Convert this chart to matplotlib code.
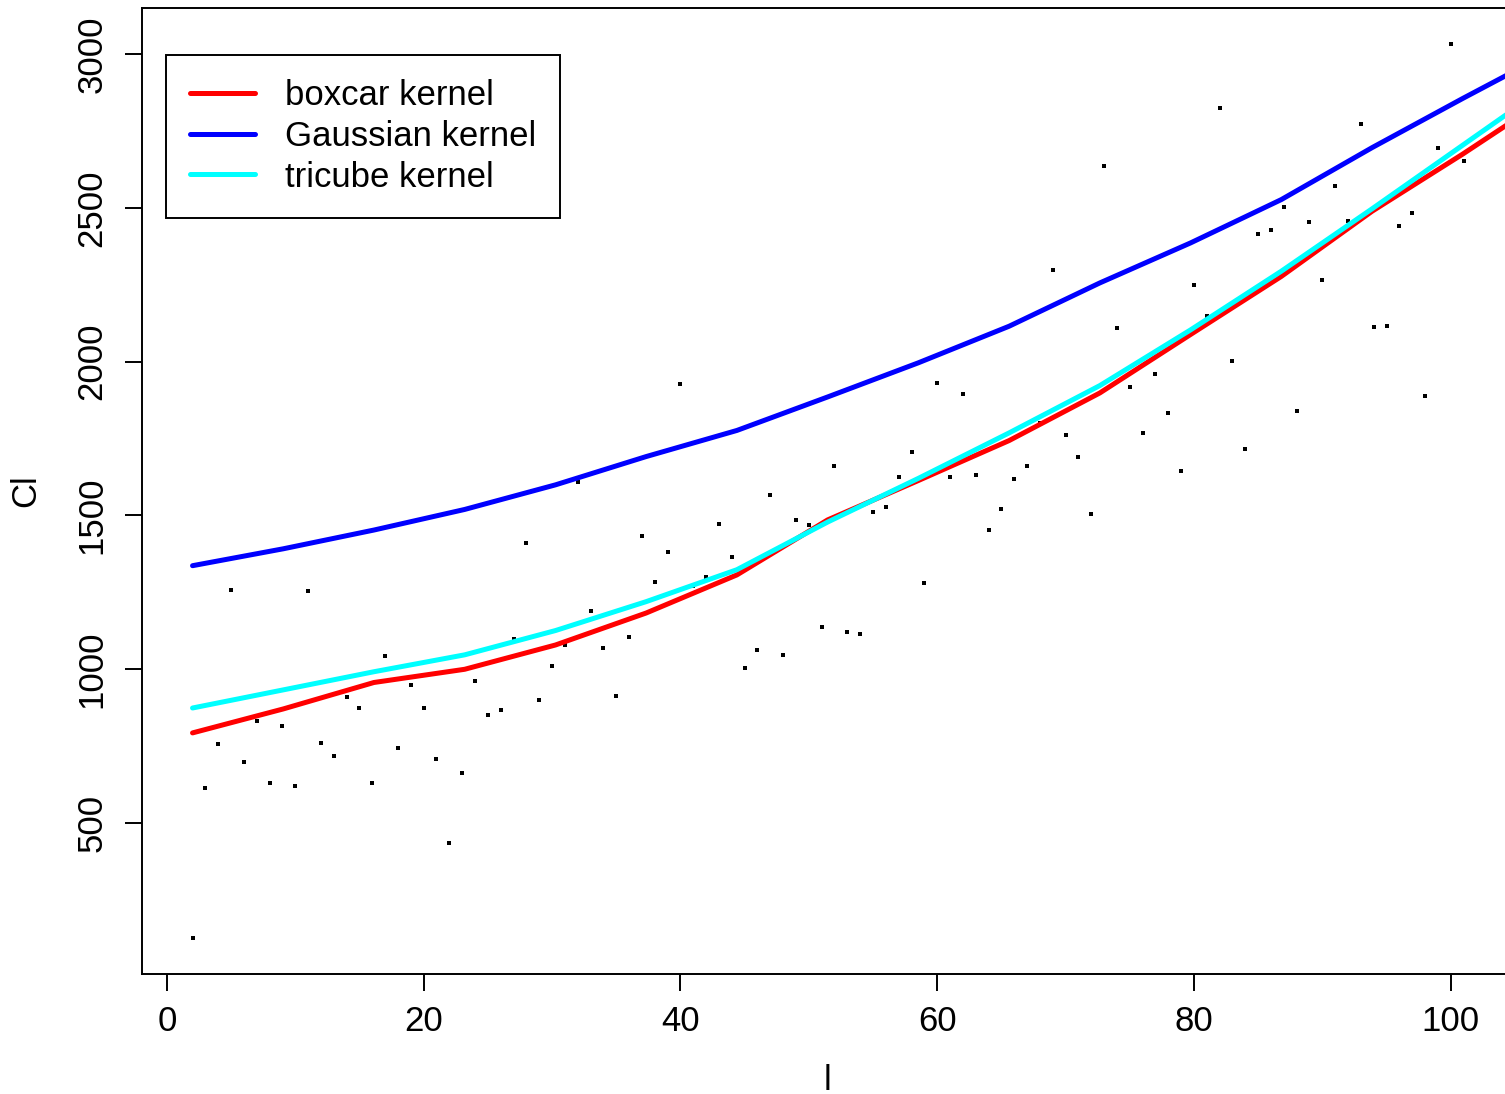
import numpy as np
import matplotlib
matplotlib.use("Agg")
import matplotlib.pyplot as plt

plt.rcParams['font.family'] = ['Liberation Sans', 'DejaVu Sans']

# scatter data (l, Cl)
l = list(range(2, 102))
cl = [124, 612, 755, 1256, 697, 830, 628, 814, 618, 1253,
      758, 716, 908, 872, 628, 1042, 742, 947, 872, 706,
      434, 661, 960, 850, 866, 1098, 1409, 898, 1009, 1077,
      1608, 1188, 1068, 911, 1103, 1432, 1282, 1380, 1927, 1270,
      1300, 1471, 1364, 1003, 1061, 1566, 1045, 1484, 1468, 1136,
      1660, 1120, 1113, 1510, 1527, 1624, 1706, 1279, 1930, 1624,
      1894, 1631, 1452, 1520, 1618, 1660, 1800, 2298, 1761, 1689,
      1504, 2637, 2109, 1917, 1768, 1960, 1833, 1644, 2249, 2149,
      2826, 2002, 1716, 2415, 2428, 2503, 1839, 2454, 2266, 2572,
      2458, 2773, 2113, 2116, 2441, 2484, 1888, 2695, 3034, 2653]

# smoothed curves, read at the evaluation points
grid = [2, 9.07, 16.13, 23.2, 30.27, 37.33, 44.4, 51.47, 58.53,
        65.6, 72.67, 79.73, 86.8, 93.87, 100.93, 108]
boxcar = [792, 870, 956, 999, 1078, 1182, 1306, 1485, 1613,
          1743, 1898, 2088, 2277, 2489, 2675, 2870]
gaussian = [1336, 1391, 1452, 1519, 1599, 1691, 1776, 1885, 1996,
            2115, 2256, 2386, 2527, 2696, 2856, 3012]
tricube = [873, 932, 991, 1046, 1125, 1219, 1323, 1478, 1620,
           1768, 1922, 2103, 2294, 2497, 2704, 2911]

W, H = 1505, 1094
fig = plt.figure(figsize=(W / 100, H / 100), dpi=100)
# plot region runs past the right edge of the picture (cropped like the original)
ax = fig.add_axes([141.7 / W, (H - 974) / H, (1514.4 - 141.7) / W, (974 - 8) / H])

ax.plot(l, cl, 's', color='black', markersize=2.2, markeredgewidth=0)
ax.plot(grid, boxcar, color='#FF0000', lw=3.6, label='boxcar kernel', solid_capstyle='round')
ax.plot(grid, gaussian, color='#0000FF', lw=3.6, label='Gaussian kernel', solid_capstyle='round')
ax.plot(grid, tricube, color='#00FFFF', lw=3.6, label='tricube kernel', solid_capstyle='round')

ax.set_xlim(-1.96, 104.96)
ax.set_ylim(7.6, 3150.4)
ax.set_xticks([0, 20, 40, 60, 80, 100])
ax.set_yticks([500, 1000, 1500, 2000, 2500, 3000])
for s in ax.spines.values():
    s.set_linewidth(1.4)
ax.tick_params(length=12, width=1.4, labelsize=25)
ax.tick_params(axis='x', pad=10)
ax.tick_params(axis='y', pad=12)
for t in ax.get_yticklabels():
    t.set_rotation(90)
    t.set_va('center')

ax.set_xlabel('l', fontsize=25)
ax.set_ylabel('Cl', fontsize=25, labelpad=24)
ax.xaxis.set_label_coords((828 - 141.7) / (1514.4 - 141.7), -0.093)

leg = ax.legend(loc='upper left', bbox_to_anchor=(166 / W, 1 - 55 / H),
                bbox_transform=fig.transFigure, borderaxespad=0,
                fontsize=25, handlelength=1.85, handletextpad=0.87,
                labelspacing=0.22, borderpad=0.7, fancybox=False,
                edgecolor='black', framealpha=1)
leg.get_frame().set_linewidth(1.4)

fig.savefig('out.png', dpi=100)
